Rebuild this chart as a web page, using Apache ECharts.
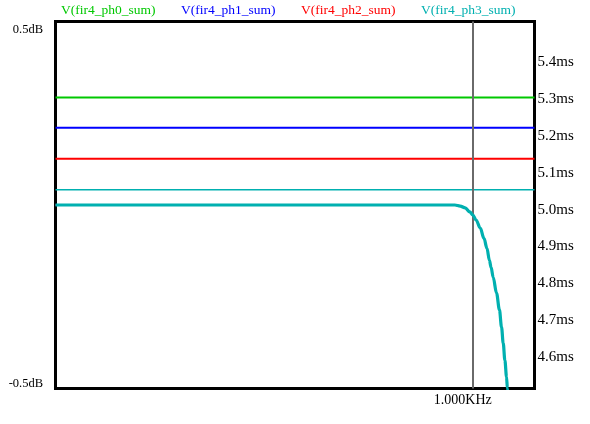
<!DOCTYPE html>
<html>
<head>
<meta charset="utf-8">
<script src="https://cdn.jsdelivr.net/npm/echarts@6/dist/echarts.min.js"></script>
<style>html,body{margin:0;padding:0;background:#fff}#c{width:590px;height:424px}</style>
</head>
<body>
<div id="c"></div>
<script>
// Frequency (Hz) for the magnitude curves
const freq = [0, 200, 400, 600, 800, 900, 945, 957, 970, 982, 993, 1000, 1008, 1018, 1027, 1034, 1040, 1044, 1049, 1057, 1064, 1069, 1073, 1077, 1081, 1083, 1086];
// Magnitude (dB), all four phases overlap
const magPh0 = [0, 0, 0, 0, 0, 0, 0, 0, -0.003, -0.008, -0.019, -0.027, -0.041, -0.063, -0.091, -0.118, -0.151, -0.170, -0.197, -0.240, -0.286, -0.333, -0.376, -0.423, -0.469, -0.499, -0.531];
const magPh1 = [0, 0, 0, 0, 0, 0, 0, 0, -0.003, -0.008, -0.019, -0.027, -0.041, -0.063, -0.091, -0.118, -0.151, -0.170, -0.197, -0.240, -0.286, -0.333, -0.376, -0.423, -0.469, -0.499, -0.531];
const magPh2 = [0, 0, 0, 0, 0, 0, 0, 0, -0.003, -0.008, -0.019, -0.027, -0.041, -0.063, -0.091, -0.118, -0.151, -0.170, -0.197, -0.240, -0.286, -0.333, -0.376, -0.423, -0.469, -0.499, -0.531];
const magPh3 = [0, 0, 0, 0, 0, 0, 0, 0, -0.003, -0.008, -0.019, -0.027, -0.041, -0.063, -0.091, -0.118, -0.151, -0.170, -0.197, -0.240, -0.286, -0.333, -0.376, -0.423, -0.469, -0.499, -0.531];
// Group delay (ms) - flat across the plotted band
const freqDelay = [0, 1148];
const delayPh0 = [5.304, 5.304];
const delayPh1 = [5.222, 5.222];
const delayPh2 = [5.138, 5.138];
const delayPh3 = [5.054, 5.054];
// Names, colours, ticks
const names = ['V(fir4_ph0_sum)', 'V(fir4_ph1_sum)', 'V(fir4_ph2_sum)', 'V(fir4_ph3_sum)'];
const colors = ['#00c800', '#0000ff', '#ff0000', '#00b0b0'];
const cursorFreq = 1000;
const dbTicks = [0.5, -0.5];
const msTicks = [4.6, 4.7, 4.8, 4.9, 5.0, 5.1, 5.2, 5.3, 5.4];

const pair = (xs, ys) => xs.map((x, i) => [x, ys[i]]);
const mags = [magPh0, magPh1, magPh2, magPh3];
const delays = [delayPh0, delayPh1, delayPh2, delayPh3];
const delayWidths = [2, 2, 2, 1.5];

const series = [];
delays.forEach((d, i) => {
  series.push({
    name: names[i], type: 'line', yAxisIndex: 1, data: pair(freqDelay, d),
    showSymbol: false, symbol: 'none', silent: true,
    lineStyle: { color: colors[i], width: delayWidths[i] }, itemStyle: { color: colors[i] }, z: 2
  });
});
mags.forEach((m, i) => {
  const s = {
    name: names[i], type: 'line', yAxisIndex: 0, data: pair(freq, m),
    showSymbol: false, symbol: 'none', silent: true, clip: true,
    smooth: 0.35, smoothMonotone: 'x',
    lineStyle: { color: colors[i], width: i === 3 ? 3.2 : 1.5 }, itemStyle: { color: colors[i] }, z: 4 + i
  };
  if (i === 3) {
    s.markLine = {
      silent: true, symbol: 'none', label: { show: false }, z: 3,
      lineStyle: { color: '#6a6a6a', width: 2, type: 'solid' },
      data: [{ xAxis: cursorFreq }]
    };
  }
  series.push(s);
});

const chart = echarts.init(document.getElementById('c'), null, { renderer: 'canvas' });
chart.setOption({
  animation: false,
  backgroundColor: '#ffffff',
  textStyle: { fontFamily: 'Liberation Serif' },
  legend: {
    left: 56, top: 3, padding: 0, icon: 'none', itemWidth: 0, itemHeight: 10, itemGap: 20.5,
    selectedMode: false,
    textStyle: { fontFamily: 'Liberation Serif', fontSize: 13.5 },
    data: names.map((n, i) => ({ name: n, textStyle: { color: colors[i] } }))
  },
  grid: {
    left: 55.5, right: 55.5, top: 21.5, bottom: 35.5,
    show: true, borderColor: '#000', borderWidth: 3, backgroundColor: 'transparent'
  },
  xAxis: {
    type: 'value', min: 0, max: 1148,
    axisLine: { show: false }, axisTick: { show: false }, splitLine: { show: false },
    axisLabel: {
      customValues: [cursorFreq], margin: 5, color: '#000',
      fontFamily: 'Liberation Serif', fontSize: 14, padding: [0, 20, 0, 0],
      formatter: v => (v / 1000).toFixed(3) + 'KHz'
    }
  },
  yAxis: [
    {
      type: 'value', min: -0.5, max: 0.5, position: 'left',
      axisLine: { show: false }, axisTick: { show: false }, splitLine: { show: false },
      axisLabel: {
        customValues: dbTicks, margin: 12.5, color: '#000',
        formatter: v => v > 0 ? '{t|' + v + 'dB}' : '{b|' + v + 'dB}',
        rich: {
          t: { fontFamily: 'Liberation Serif', fontSize: 12.5, color: '#000', padding: [16, 0, 0, 0] },
          b: { fontFamily: 'Liberation Serif', fontSize: 12.5, color: '#000', padding: [0, 0, 10, 0] }
        }
      }
    },
    {
      type: 'value', min: 4.515, max: 5.51, position: 'right',
      axisLine: { show: false }, axisTick: { show: false }, splitLine: { show: false },
      axisLabel: {
        customValues: msTicks, margin: 3, color: '#000',
        fontFamily: 'Liberation Serif', fontSize: 15,
        formatter: v => v.toFixed(1) + 'ms'
      }
    }
  ],
  series: series
});
</script>
</body>
</html>
